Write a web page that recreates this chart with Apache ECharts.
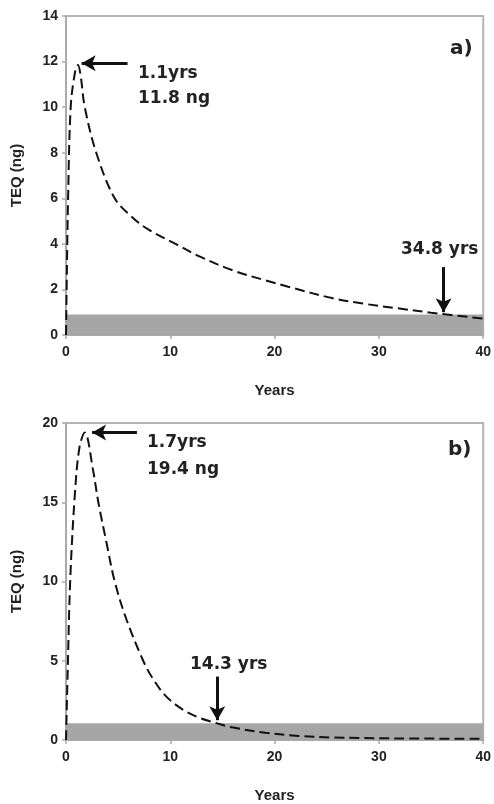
<!DOCTYPE html>
<html>
<head>
<meta charset="utf-8">
<script src="https://cdn.jsdelivr.net/npm/echarts@6/dist/echarts.min.js"></script>
<style>
html,body{margin:0;padding:0;background:#fff;}
#main{width:494px;height:804px;}
</style>
</head>
<body>
<div id="main"></div>
<script>
// Panel a)
var yearsA = [0, 0.06, 0.2, 0.45, 0.85, 1.15, 1.4, 1.8, 2.9, 4.67, 6.4, 8.0, 10.5, 12.8, 15.9, 19.1, 21.3, 25.5, 28.6, 31.8, 35, 40];
var teqA   = [0, 2.0, 6.0, 10.0, 11.5, 11.85, 11.4, 10.0, 8.0, 6.0, 5.15, 4.6, 4.0, 3.45, 2.85, 2.4, 2.12, 1.62, 1.37, 1.17, 0.98, 0.72];
var bandA = [0, 0.9];
// Panel b)
var yearsB = [0, 0.15, 0.4, 0.85, 1.3, 1.8, 2.6, 3.1, 3.9, 4.67, 5.8, 7.4, 8.3, 9.6, 11.2, 12.8, 14.35, 15.9, 19.1, 22.3, 25.5, 31.8, 40];
var teqB   = [0, 4, 10, 15.5, 18.5, 19.4, 17.0, 15, 12.4, 10, 7.6, 5.0, 3.9, 2.75, 1.92, 1.4, 1.08, 0.8, 0.46, 0.26, 0.16, 0.1, 0.08];
var bandB = [0, 1.05];
// Axes
var xTicks = [0, 10, 20, 30, 40];
var yMaxA = 14, yStepA = 2;
var yMaxB = 20, yStepB = 5;
// Annotations
var peakA = {text: '1.1yrs\n11.8 ng', from: [5.9, 11.93], to: [1.5, 11.93]};
var peakB = {text: '1.7yrs\n19.4 ng', from: [6.8, 19.4], to: [2.5, 19.4]};
var thrA = {text: '34.8 yrs', from: [36.2, 2.98], to: [36.2, 1.0]};
var thrB = {text: '14.3 yrs', from: [14.5, 4.0], to: [14.5, 1.25]};

var FONT = '"Liberation Sans", Arial, sans-serif';
var AFONT = '"DejaVu Sans", sans-serif';
var TXT = '#222';
var chart = echarts.init(document.getElementById('main'), null, {renderer: 'canvas'});

function pairs(xs, ys) { return xs.map(function (x, i) { return [x, ys[i]]; }); }

function xAxisCfg(idx) {
  return {
    type: 'value', gridIndex: idx, min: xTicks[0], max: xTicks[xTicks.length - 1], interval: 10,
    name: 'Years', nameLocation: 'middle', nameGap: 48,
    nameTextStyle: {fontFamily: FONT, fontWeight: 'bold', fontSize: 15, color: TXT},
    axisLine: {show: true, lineStyle: {color: '#aaa', width: 2}},
    axisTick: {show: true, length: 4, lineStyle: {color: '#aaa', width: 1.5}},
    axisLabel: {fontFamily: FONT, fontWeight: 'bold', fontSize: 14, color: TXT, margin: 10},
    splitLine: {show: false}
  };
}
function yAxisCfg(idx, max, step) {
  return {
    type: 'value', gridIndex: idx, min: 0, max: max, interval: step,
    name: 'TEQ (ng)', nameLocation: 'middle', nameGap: 42,
    nameTextStyle: {fontFamily: FONT, fontWeight: 'bold', fontSize: 15, color: TXT},
    axisLine: {show: true, lineStyle: {color: '#aaa', width: 2}},
    axisTick: {show: true, length: 4, lineStyle: {color: '#aaa', width: 1.5}},
    axisLabel: {fontFamily: FONT, fontWeight: 'bold', fontSize: 14, color: TXT, margin: 8},
    splitLine: {show: false}
  };
}
function arrowLines(list) {
  return {
    silent: true, symbol: ['none', 'arrow'], symbolSize: [12, 14], precision: 4,
    label: {show: false},
    lineStyle: {color: '#111', width: 3, type: 'solid'},
    data: list.map(function (a) { return [{coord: a.from}, {coord: a.to}]; })
  };
}
function curve(idx, data, band, arrows) {
  return {
    type: 'line', xAxisIndex: idx, yAxisIndex: idx, data: data,
    smooth: 0.35, symbol: 'none', z: 5,
    lineStyle: {color: '#111', width: 2, type: [10, 5]},
    markArea: {
      silent: true, itemStyle: {color: '#a6a6a6'},
      data: [[{coord: [xTicks[0], band[0]]}, {coord: [xTicks[xTicks.length - 1], band[1]]}]]
    },
    markLine: arrowLines(arrows)
  };
}

var option = {
  animation: false,
  backgroundColor: '#fff',
  grid: [
    {left: 66, top: 16, width: 420, height: 319, show: true, borderColor: '#b5b5b5', borderWidth: 2, backgroundColor: '#fff'},
    {left: 66, top: 423, width: 420, height: 319, show: true, borderColor: '#b5b5b5', borderWidth: 2, backgroundColor: '#fff'}
  ],
  xAxis: [xAxisCfg(0), xAxisCfg(1)],
  yAxis: [yAxisCfg(0, yMaxA, yStepA), yAxisCfg(1, yMaxB, yStepB)],
  series: [
    curve(0, pairs(yearsA, teqA), bandA, [peakA, thrA]),
    curve(1, pairs(yearsB, teqB), bandB, [peakB, thrB])
  ],
  graphic: [
    {type: 'text', left: 138, top: 61, style: {text: peakA.text, font: 'bold 17px ' + AFONT, fill: TXT, lineHeight: 25}},
    {type: 'text', left: 450, top: 39, style: {text: 'a)', font: 'bold 20px ' + AFONT, fill: TXT}},
    {type: 'text', left: 401, top: 241, style: {text: thrA.text, font: 'bold 17px ' + AFONT, fill: TXT}},
    {type: 'text', left: 147, top: 429, style: {text: peakB.text, font: 'bold 17px ' + AFONT, fill: TXT, lineHeight: 27}},
    {type: 'text', left: 448, top: 440, style: {text: 'b)', font: 'bold 20px ' + AFONT, fill: TXT}},
    {type: 'text', left: 190, top: 656, style: {text: thrB.text, font: 'bold 17px ' + AFONT, fill: TXT}}
  ]
};
chart.setOption(option);
</script>
</body>
</html>
